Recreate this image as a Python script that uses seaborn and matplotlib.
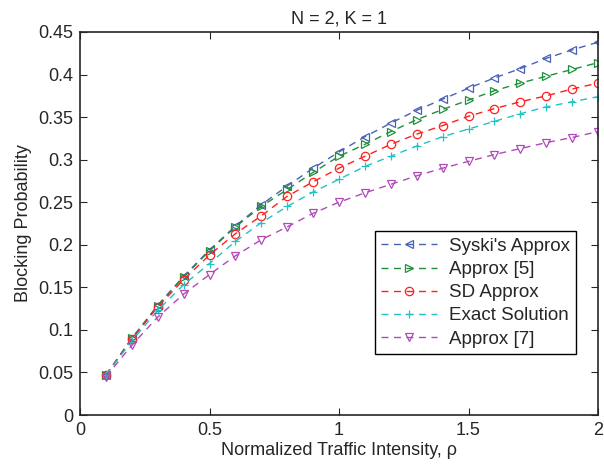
import numpy as np
import pandas as pd
import seaborn as sns
import matplotlib
matplotlib.use('Agg')
import matplotlib.pyplot as plt

# traffic intensity values
rho = [0.1, 0.2, 0.3, 0.4, 0.5, 0.6, 0.7, 0.8, 0.9, 1.0,
       1.1, 1.2, 1.3, 1.4, 1.5, 1.6, 1.7, 1.8, 1.9, 2.0]

syski = [0.047, 0.090, 0.129, 0.163, 0.194, 0.222, 0.247, 0.269, 0.290, 0.309,
         0.327, 0.343, 0.358, 0.371, 0.384, 0.396, 0.407, 0.419, 0.429, 0.438]
approx5 = [0.047, 0.090, 0.128, 0.162, 0.193, 0.221, 0.245, 0.265, 0.285, 0.304,
           0.318, 0.333, 0.347, 0.359, 0.370, 0.381, 0.390, 0.398, 0.406, 0.414]
sd_approx = [0.047, 0.089, 0.127, 0.159, 0.188, 0.213, 0.234, 0.257, 0.274, 0.290,
             0.304, 0.318, 0.330, 0.340, 0.351, 0.360, 0.368, 0.375, 0.383, 0.390]
exact = [0.047, 0.087, 0.123, 0.153, 0.178, 0.204, 0.226, 0.245, 0.262, 0.277,
         0.292, 0.304, 0.316, 0.327, 0.336, 0.345, 0.354, 0.362, 0.368, 0.374]
approx7 = [0.045, 0.082, 0.115, 0.142, 0.165, 0.187, 0.206, 0.221, 0.237, 0.250,
           0.261, 0.271, 0.281, 0.290, 0.298, 0.306, 0.313, 0.320, 0.326, 0.333]

labels = ["Syski's Approx", 'Approx [5]', 'SD Approx', 'Exact Solution', 'Approx [7]']
series = [syski, approx5, sd_approx, exact, approx7]
colors = ['#4a62b4', '#1f8f3c', '#ff2020', '#20c4c4', '#b04ab8']
marks = ['<', '>', 'o', '+', 'v']

sns.set_style('ticks')
plt.rcParams['font.family'] = ['Liberation Sans', 'DejaVu Sans']

fig = plt.figure(figsize=(6.04, 4.73), dpi=100)
ax = fig.add_axes([80/604, 58/473, 518/604, 383/473])

for lab, vals, c, m in zip(labels, series, colors, marks):
    df = pd.DataFrame({'rho': rho, 'p': vals})
    sns.lineplot(data=df, x='rho', y='p', ax=ax, color=c, marker=m,
                 markersize=6, mfc='none', mec=c, mew=0.9,
                 linestyle=(0, (5, 4)), linewidth=1.0, label=lab)

ax.set_xlim(0, 2)
ax.set_ylim(0, 0.45)
ax.set_xticks([0, 0.5, 1, 1.5, 2])
ax.set_xticklabels(['0', '0.5', '1', '1.5', '2'])
ax.set_yticks(np.arange(0, 0.451, 0.05))
ax.set_yticklabels(['0', '0.05', '0.1', '0.15', '0.2', '0.25', '0.3', '0.35', '0.4', '0.45'])
ax.tick_params(direction='in', top=True, right=True, labelsize=13, length=5, pad=5)
for sp in ax.spines.values():
    sp.set_linewidth(1.2)
    sp.set_visible(True)

ax.set_xlabel('Normalized Traffic Intensity, \u03c1', fontsize=13, labelpad=2)
ax.set_ylabel('Blocking Probability', fontsize=13, labelpad=4)
ax.set_title('N = 2, K = 1', fontsize=13, pad=6)

leg = ax.legend(loc='lower right', bbox_to_anchor=(0.958, 0.159), fontsize=13.5,
                frameon=True, fancybox=False, edgecolor='black', framealpha=1,
                handlelength=3.0, borderpad=0.35, labelspacing=0.32, handletextpad=0.6,
                borderaxespad=0)
leg.get_frame().set_linewidth(1.0)

fig.savefig('out.png', dpi=100)
